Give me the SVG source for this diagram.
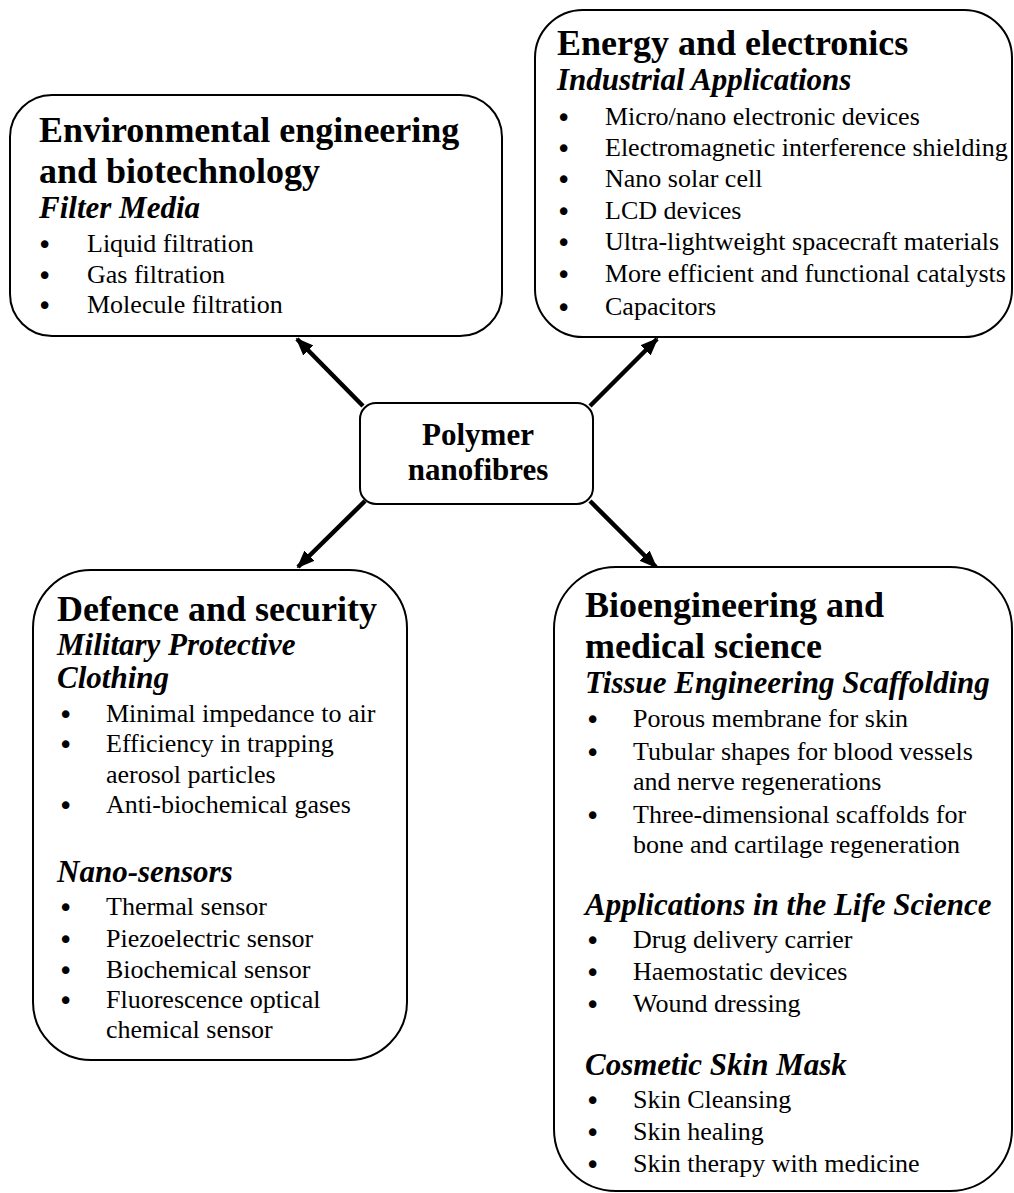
<svg xmlns="http://www.w3.org/2000/svg" width="1014" height="1193" viewBox="0 0 1014 1193">
<style>
.box{fill:#fff;stroke:#000;stroke-width:2}
text{font-family:"Liberation Serif","Times New Roman",serif;fill:#000}
.h{font-size:36px;font-weight:bold}
.s{font-size:31px;font-weight:bold;font-style:italic}
.i{font-size:26px}
text.b{font-family:"DejaVu Sans",sans-serif;font-size:26px}
.c{font-size:31px;font-weight:bold;text-anchor:middle}
.con{stroke:#000;stroke-width:4.5;fill:none;marker-end:url(#ah)}
</style>
<defs>
<marker id="ah" viewBox="0 0 10 10" refX="9" refY="5" markerWidth="4" markerHeight="4" orient="auto" markerUnits="strokeWidth">
<path d="M0,1 L10,5 L0,9 z" fill="#000"/>
</marker>
</defs>
<rect width="1014" height="1193" fill="#fff"/>
<g id="connectors">
<line class="con" x1="363" y1="406" x2="297" y2="339"/>
<line class="con" x1="590" y1="406" x2="657" y2="339"/>
<line class="con" x1="365" y1="501" x2="298" y2="567"/>
<line class="con" x1="590" y1="501" x2="656" y2="567"/>
</g>
<g id="center">
<rect class="box" x="360" y="403" width="233" height="101" rx="16"/>
<text class="c" x="478" y="445">Polymer</text>
<text class="c" x="478" y="480">nanofibres</text>
</g>
<g id="env">
<rect class="box" x="10" y="95" width="492" height="241" rx="42"/>
<text class="h" x="39" y="142">Environmental engineering</text>
<text class="h" x="39" y="183">and biotechnology</text>
<text class="s" x="39" y="218">Filter Media</text>
<text class="b" x="37" y="254">•</text><text class="i" x="87" y="252">Liquid filtration</text>
<text class="b" x="37" y="285">•</text><text class="i" x="87" y="283">Gas filtration</text>
<text class="b" x="37" y="315">•</text><text class="i" x="87" y="313">Molecule filtration</text>
</g>
<g id="energy">
<rect class="box" x="535" y="10" width="477" height="327" rx="48"/>
<text class="h" x="557" y="55">Energy and electronics</text>
<text class="s" x="557" y="90">Industrial Applications</text>
<text class="b" x="556" y="127">•</text><text class="i" x="605" y="125">Micro/nano electronic devices</text>
<text class="b" x="556" y="158">•</text><text class="i" x="605" y="156">Electromagnetic interference shielding</text>
<text class="b" x="556" y="189">•</text><text class="i" x="605" y="187">Nano solar cell</text>
<text class="b" x="556" y="221">•</text><text class="i" x="605" y="219">LCD devices</text>
<text class="b" x="556" y="252">•</text><text class="i" x="605" y="250">Ultra-lightweight spacecraft materials</text>
<text class="b" x="556" y="284">•</text><text class="i" x="605" y="282">More efficient and functional catalysts</text>
<text class="b" x="556" y="317">•</text><text class="i" x="605" y="315">Capacitors</text>
</g>
<g id="defence">
<rect class="box" x="33" y="570" width="374" height="490" rx="58"/>
<text class="h" x="57" y="621">Defence and security</text>
<text class="s" x="57" y="655">Military Protective</text>
<text class="s" x="57" y="688">Clothing</text>
<text class="b" x="58" y="724">•</text><text class="i" x="106" y="722">Minimal impedance to air</text>
<text class="b" x="58" y="754">•</text><text class="i" x="106" y="752">Efficiency in trapping</text>
<text class="i" x="106" y="783">aerosol particles</text>
<text class="b" x="58" y="815">•</text><text class="i" x="106" y="813">Anti-biochemical gases</text>
<text class="s" x="57" y="882">Nano-sensors</text>
<text class="b" x="58" y="917">•</text><text class="i" x="106" y="915">Thermal sensor</text>
<text class="b" x="58" y="949">•</text><text class="i" x="106" y="947">Piezoelectric sensor</text>
<text class="b" x="58" y="980">•</text><text class="i" x="106" y="978">Biochemical sensor</text>
<text class="b" x="58" y="1010">•</text><text class="i" x="106" y="1008">Fluorescence optical</text>
<text class="i" x="106" y="1038">chemical sensor</text>
</g>
<g id="bio">
<rect class="box" x="554" y="567" width="458" height="624" rx="62"/>
<text class="h" x="585" y="617">Bioengineering and</text>
<text class="h" x="585" y="658">medical science</text>
<text class="s" x="585" y="693">Tissue Engineering Scaffolding</text>
<text class="b" x="585" y="729">•</text><text class="i" x="633" y="727">Porous membrane for skin</text>
<text class="b" x="585" y="762">•</text><text class="i" x="633" y="760">Tubular shapes for blood vessels</text>
<text class="i" x="633" y="790">and nerve regenerations</text>
<text class="b" x="585" y="825">•</text><text class="i" x="633" y="823">Three-dimensional scaffolds for</text>
<text class="i" x="633" y="853">bone and cartilage regeneration</text>
<text class="s" x="585" y="915">Applications in the Life Science</text>
<text class="b" x="585" y="950">•</text><text class="i" x="633" y="948">Drug delivery carrier</text>
<text class="b" x="585" y="982">•</text><text class="i" x="633" y="980">Haemostatic devices</text>
<text class="b" x="585" y="1014">•</text><text class="i" x="633" y="1012">Wound dressing</text>
<text class="s" x="585" y="1075">Cosmetic Skin Mask</text>
<text class="b" x="585" y="1110">•</text><text class="i" x="633" y="1108">Skin Cleansing</text>
<text class="b" x="585" y="1142">•</text><text class="i" x="633" y="1140">Skin healing</text>
<text class="b" x="585" y="1174">•</text><text class="i" x="633" y="1172">Skin therapy with medicine</text>
</g>
</svg>
